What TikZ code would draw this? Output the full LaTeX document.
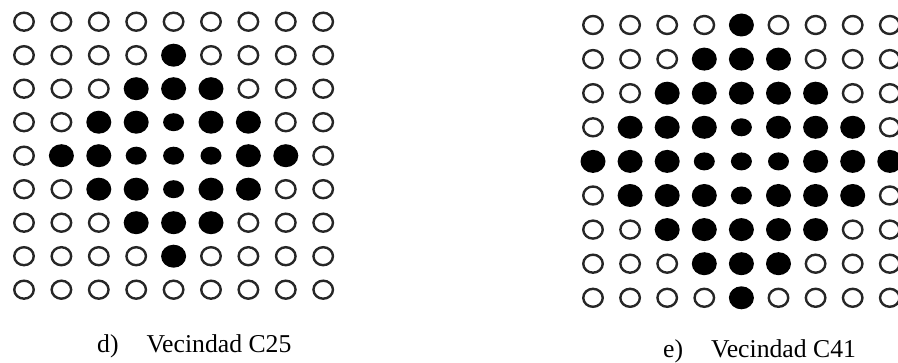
\documentclass[tikz,border=0pt]{standalone}
\usepackage{fontspec}
\setmainfont{Liberation Serif}
\usetikzlibrary{shapes.geometric,positioning}

\begin{document}
\begin{tikzpicture}[x=1pt,y=-1pt,
  hueco/.style={ellipse,draw=black!85,line width=2.4pt,fill=white,
                minimum width=19.5pt,minimum height=18pt,inner sep=0pt},
  lleno/.style={ellipse,fill=black,minimum width=25pt,minimum height=23pt,inner sep=0pt},
  chico/.style={ellipse,fill=black,minimum width=21pt,minimum height=18pt,inner sep=0pt},
  rotulo/.style={font=\fontsize{25.7}{30}\selectfont,anchor=base west,inner sep=0pt}
]
\useasboundingbox (0,0) rectangle (898,363);

% vecindad C25
\foreach \f in {0,...,8}{
  \foreach \c in {0,...,8}{
    \pgfmathtruncatemacro{\dd}{abs(\f-4)+abs(\c-4)}
    \ifnum\dd<2 \def\estilo{chico}\else\ifnum\dd<4 \def\estilo{lleno}\else\def\estilo{hueco}\fi\fi
    \node[\estilo] (d-\f-\c) at ({24+37.4*\c},{21.7+33.5*\f}) {};
  }
}

% vecindad C41
\foreach \f in {0,...,8}{
  \foreach \c in {0,...,8}{
    \pgfmathtruncatemacro{\dd}{abs(\f-4)+abs(\c-4)}
    \ifnum\dd<2 \def\estilo{chico}\else\ifnum\dd<5 \def\estilo{lleno}\else\def\estilo{hueco}\fi\fi
    \node[\estilo] (e-\f-\c) at ({593+37.1*\c},{25+34.1*\f}) {};
  }
}

\node[rotulo] (ld) at (97,353) {d)};
\node[rotulo] (td) at ([xshift=27.5pt]ld.base east) {Vecindad C25};
\node[rotulo] (le) at (663,358) {e)};
\node[rotulo] (te) at ([xshift=27.5pt]le.base east) {Vecindad C41};
\end{tikzpicture}
\end{document}
